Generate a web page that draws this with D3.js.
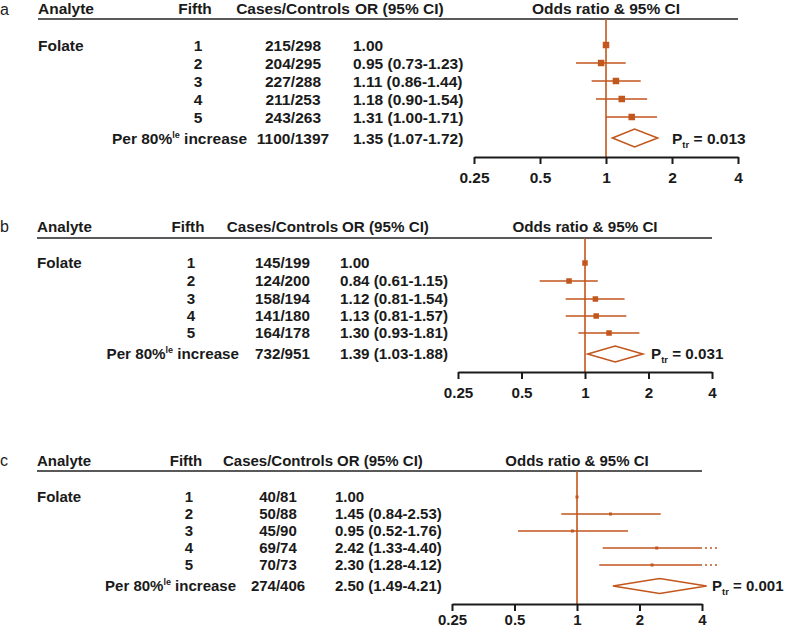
<!DOCTYPE html>
<html><head><meta charset="utf-8">
<script src="https://cdn.jsdelivr.net/npm/d3@7"></script>
<style>body{margin:0;background:#fff}svg{display:block}</style>
</head><body>
<script>
// ---- data ----
const panelLabels = ["a", "b", "c"];
const analyte = "Folate";
const fifths = ["1", "2", "3", "4", "5"];
const perLabel = "Per 80%";
const headers = ["Analyte", "Fifth", "Cases/Controls", "OR (95% CI)", "Odds ratio & 95% CI"];
const tickValues = [0.25, 0.5, 1, 2, 4];
const tickLabels = ["0.25", "0.5", "1", "2", "4"];

const casesA = ["215/298", "204/295", "227/288", "211/253", "243/263"];
const orA = [1.00, 0.95, 1.11, 1.18, 1.31];
const loA = [null, 0.73, 0.86, 0.90, 1.00];
const hiA = [null, 1.23, 1.44, 1.54, 1.71];
const perA = {cases: "1100/1397", or: 1.35, lo: 1.07, hi: 1.72, p: "0.013"};

const casesB = ["145/199", "124/200", "158/194", "141/180", "164/178"];
const orB = [1.00, 0.84, 1.12, 1.13, 1.30];
const loB = [null, 0.61, 0.81, 0.81, 0.93];
const hiB = [null, 1.15, 1.54, 1.57, 1.81];
const perB = {cases: "732/951", or: 1.39, lo: 1.03, hi: 1.88, p: "0.031"};

const casesC = ["40/81", "50/88", "45/90", "69/74", "70/73"];
const orC = [1.00, 1.45, 0.95, 2.42, 2.30];
const loC = [null, 0.84, 0.52, 1.33, 1.28];
const hiC = [null, 2.53, 1.76, 4.40, 4.12];
const perC = {cases: "274/406", or: 2.50, lo: 1.49, hi: 4.21, p: "0.001"};

// ---- layout ----
const layouts = [
  {fs: 15.5, lblY: 15, hdrY: 13.5, lineY: 19, x0: 38, rows: [45, 63, 81, 99, 117], perY: 138, axisY: 157, tickY: 183,
   r0: 474, r1: 738, fifthX: 195, casesX: 293, orX: 353, perR: 247, sq: 6.5, dh: 9, ptrX: 672,
   cases: casesA, or: orA, lo: loA, hi: hiA, per: perA},
  {fs: 15.2, lblY: 232, hdrY: 232, lineY: 238, x0: 37, rows: [263, 281, 299, 316, 333], perY: 354, axisY: 372, tickY: 398,
   r0: 458, r1: 712, fifthX: 188, casesX: 282.5, orX: 340, perR: 239, sq: 5.5, dh: 8, ptrX: 651,
   cases: casesB, or: orB, lo: loB, hi: hiB, per: perB},
  {fs: 15, lblY: 466, hdrY: 466, lineY: 471, x0: 37, rows: [497, 514, 531, 548, 565], perY: 586, axisY: 604, tickY: 625,
   r0: 452, r1: 702, fifthX: 186, casesX: 278, orX: 335, perR: 236, sq: 3, dh: 7.5, ptrX: 712,
   cases: casesC, or: orC, lo: loC, hi: hiC, per: perC}
];

const W = 785, H = 628;
const col = "#c2561c";
const font = "Arial, 'Liberation Sans', Helvetica, sans-serif";
const svg = d3.select("body").append("svg").attr("width", W).attr("height", H)
  .style("font-family", font);

const fmt = v => v.toFixed(2);

layouts.forEach((L, pi) => {
  const g = svg.append("g");
  const x = d3.scaleLog().base(2).domain([tickValues[0], tickValues[tickValues.length - 1]]).range([L.r0, L.r1]);
  const dy = "0.36em";

  // panel label
  g.append("text").attr("x", 0).attr("y", L.lblY).attr("font-size", 16).attr("fill", "#222").text(panelLabels[pi]);

  // headers
  const hg = g.append("g").attr("font-size", L.fs).attr("font-weight", "bold").attr("fill", "#1a1a1a");
  hg.append("text").attr("x", L.x0).attr("y", L.hdrY).text(headers[0]);
  hg.append("text").attr("x", L.fifthX).attr("y", L.hdrY).attr("text-anchor", "middle").text(headers[1]);
  hg.append("text").attr("x", L.casesX).attr("y", L.hdrY).attr("text-anchor", "middle").text(headers[2]);
  hg.append("text").attr("x", L.orX + 2).attr("y", L.hdrY).text(headers[3]);
  hg.append("text").attr("x", x(1)).attr("y", L.hdrY).attr("text-anchor", "middle").text(headers[4]);
  g.append("line").attr("x1", L.x0).attr("x2", L.r1).attr("y1", L.lineY).attr("y2", L.lineY)
    .attr("stroke", "#222").attr("stroke-width", 1.6);

  // rows text
  const tg = g.append("g").attr("font-size", L.fs).attr("font-weight", "bold").attr("fill", "#1a1a1a");
  tg.append("text").attr("x", L.x0).attr("y", L.rows[0]).attr("dy", dy).text(analyte);
  fifths.forEach((f, i) => {
    tg.append("text").attr("x", L.fifthX + 3).attr("y", L.rows[i]).attr("dy", dy).attr("text-anchor", "middle").text(f);
    tg.append("text").attr("x", L.casesX).attr("y", L.rows[i]).attr("dy", dy).attr("text-anchor", "middle").text(L.cases[i]);
    const s = L.lo[i] == null ? fmt(L.or[i]) : `${fmt(L.or[i])} (${fmt(L.lo[i])}-${fmt(L.hi[i])})`;
    tg.append("text").attr("x", L.orX).attr("y", L.rows[i]).attr("dy", dy).text(s);
  });
  const pt = tg.append("text").attr("x", L.perR).attr("y", L.perY).attr("dy", dy).attr("text-anchor", "end");
  pt.append("tspan").text(perLabel);
  pt.append("tspan").attr("font-size", 9).attr("dy", -6).text("le");
  pt.append("tspan").attr("dy", 6).text(" increase");
  tg.append("text").attr("x", L.casesX).attr("y", L.perY).attr("dy", dy).attr("text-anchor", "middle").text(L.per.cases);
  tg.append("text").attr("x", L.orX).attr("y", L.perY).attr("dy", dy)
    .text(`${fmt(L.per.or)} (${fmt(L.per.lo)}-${fmt(L.per.hi)})`);

  // reference line
  g.append("line").attr("x1", x(1)).attr("x2", x(1)).attr("y1", L.lineY).attr("y2", L.axisY)
    .attr("stroke", col).attr("stroke-width", 1.6);

  // CI lines & squares
  const maxV = tickValues[tickValues.length - 1];
  fifths.forEach((f, i) => {
    const y = L.rows[i];
    if (L.lo[i] != null) {
      const hiClip = Math.min(L.hi[i], maxV);
      g.append("line").attr("x1", x(L.lo[i])).attr("x2", x(hiClip)).attr("y1", y).attr("y2", y)
        .attr("stroke", col).attr("stroke-width", 1.6);
      if (L.hi[i] > maxV) {
        g.append("line").attr("x1", x(maxV) + 3).attr("x2", x(maxV) + 17).attr("y1", y).attr("y2", y)
          .attr("stroke", col).attr("stroke-width", 1.6).attr("stroke-dasharray", "2,3");
      }
    }
    g.append("rect").attr("x", x(L.or[i]) - L.sq / 2).attr("y", y - L.sq / 2)
      .attr("width", L.sq).attr("height", L.sq).attr("fill", col);
  });

  // diamond
  const p = L.per, yc = L.perY;
  g.append("path")
    .attr("d", `M${x(p.lo)},${yc} L${x(p.or)},${yc - L.dh} L${x(p.hi)},${yc} L${x(p.or)},${yc + L.dh} Z`)
    .attr("fill", "none").attr("stroke", col).attr("stroke-width", 1.6);

  // P trend
  const ptr = g.append("text").attr("x", L.ptrX).attr("y", yc).attr("dy", dy)
    .attr("font-size", L.fs).attr("font-weight", "bold").attr("fill", "#1a1a1a");
  ptr.append("tspan").text("P");
  ptr.append("tspan").attr("font-size", 9.5).attr("dy", 4).text("tr");
  ptr.append("tspan").attr("dy", -4).text(" = " + p.p);

  // axis
  const axis = d3.axisBottom(x).tickValues(tickValues).tickFormat((d, i) => tickLabels[i]).tickSize(7).tickSizeOuter(0);
  const ag = g.append("g").attr("transform", `translate(0,${L.axisY})`).call(axis);
  ag.attr("font-family", font);
  ag.select(".domain").attr("stroke", "#1a1a1a").attr("stroke-width", 2);
  ag.selectAll(".tick line").attr("stroke", "#1a1a1a").attr("stroke-width", 2);
  ag.selectAll(".tick text").attr("font-size", L.fs).attr("font-weight", "bold").attr("fill", "#1a1a1a")
    .attr("font-family", font).attr("dy", null).attr("y", L.tickY - L.axisY);
});
</script>
</body></html>
